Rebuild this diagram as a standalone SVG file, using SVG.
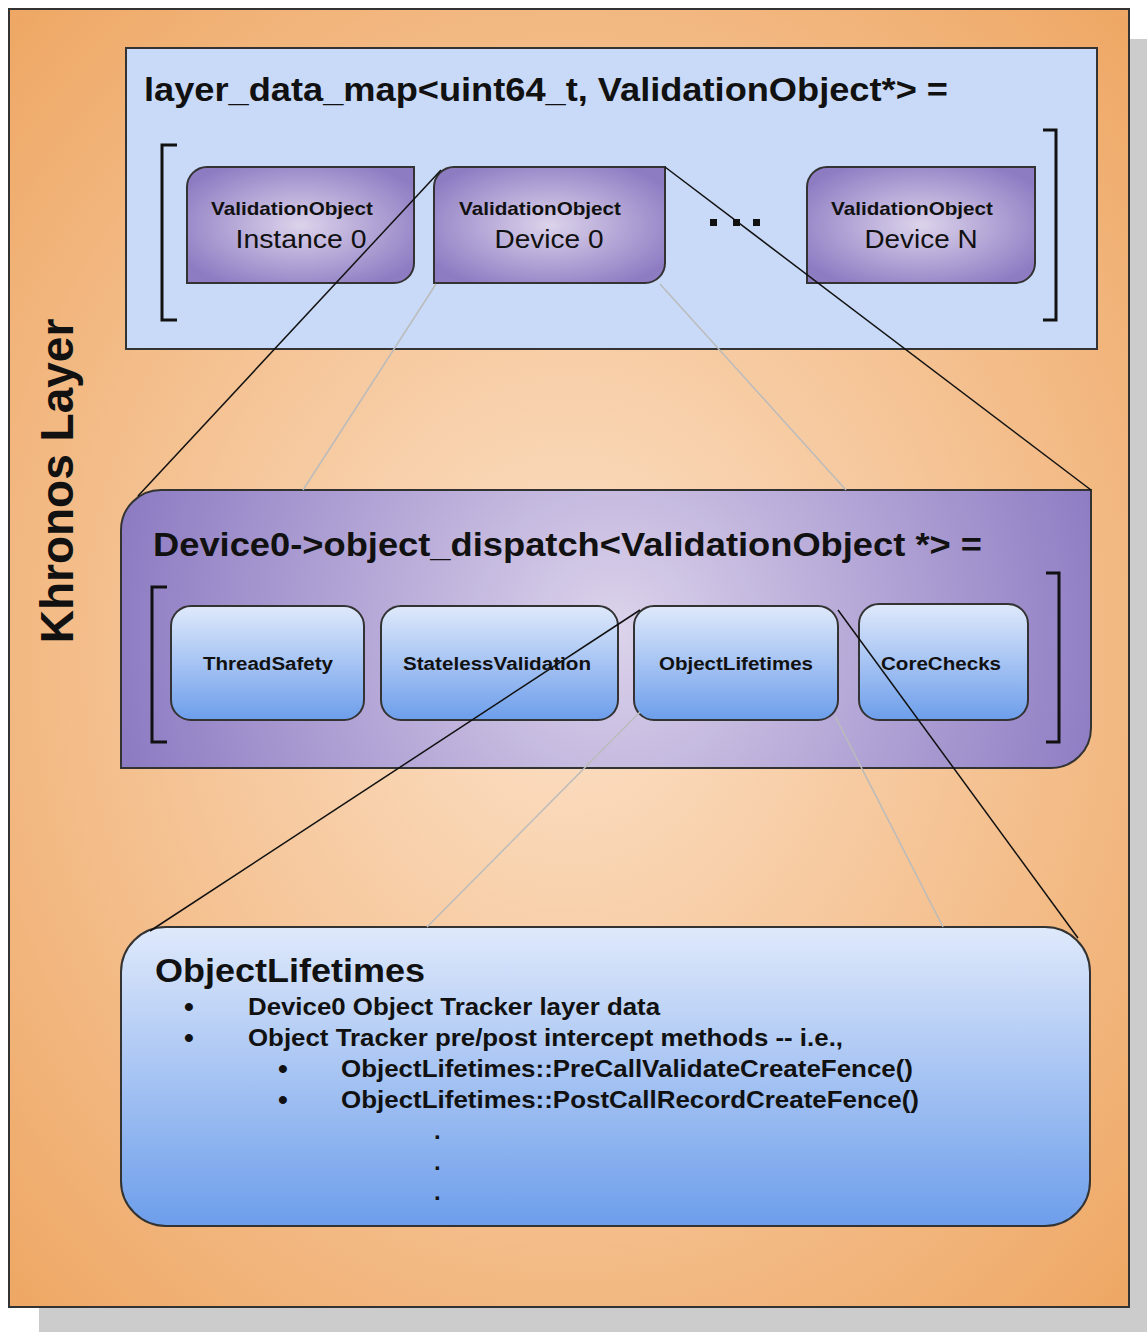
<svg xmlns="http://www.w3.org/2000/svg" width="1147" height="1332" viewBox="0 0 1147 1332">
<defs>
<radialGradient id="gOrange" cx="0.5" cy="0.5" r="0.72">
<stop offset="0" stop-color="#fce1c8"/>
<stop offset="1" stop-color="#eea662"/>
</radialGradient>
<radialGradient id="gPurple" cx="0.5" cy="0.5" r="0.6">
<stop offset="0" stop-color="#dcd3eb"/>
<stop offset="1" stop-color="#8e7cc3"/>
</radialGradient>
<radialGradient id="gPurpleBig" gradientUnits="userSpaceOnUse" cx="615" cy="630" r="500">
<stop offset="0" stop-color="#dcd3eb"/>
<stop offset="1" stop-color="#8e7cc3"/>
</radialGradient>
<linearGradient id="gBlue" x1="0" y1="0" x2="0" y2="1">
<stop offset="0" stop-color="#dfe9fb"/>
<stop offset="1" stop-color="#6d9eeb"/>
</linearGradient>
<style>
.frame{stroke:#333;stroke-width:2}
.bracket{fill:none;stroke:#111;stroke-width:3}
.dark{stroke:#111;stroke-width:1.5;fill:none}
.grey{stroke:#bbbbbb;stroke-width:1.5;fill:none}
.t{font-family:"Liberation Sans",Arial,sans-serif;fill:#111}
.b{font-weight:bold}
.title{font-size:34px;font-weight:bold}
.vo{font-size:19px;font-weight:bold;text-anchor:middle}
.nm{font-size:25px;text-anchor:middle}
.cmp{font-size:18px;font-weight:bold;text-anchor:middle}
.li{font-size:24px;font-weight:bold}
</style>
</defs>
<rect x="39" y="39" width="1108" height="1293" fill="#cccccc"/>
<g id="khronos-layer">
<rect x="9" y="9" width="1120" height="1298" fill="url(#gOrange)" class="frame"/>
<text class="t b" font-size="46" text-anchor="middle" transform="translate(73 481) rotate(-90)">Khronos Layer</text>
</g>
<g id="layer-data-map">
<rect x="126" y="48" width="971" height="301" fill="#c9daf8" class="frame"/>
<text class="t title" x="144" y="101" textLength="804" lengthAdjust="spacingAndGlyphs">layer_data_map&lt;uint64_t, ValidationObject*&gt; =</text>
<polyline class="bracket" points="177,145 162,145 162,320 177,320"/>
<polyline class="bracket" points="1043,130 1056,130 1056,320 1043,320"/>
<g fill="#111"><rect x="710" y="219" width="7" height="7"/><rect x="733" y="219" width="7" height="7"/><rect x="753" y="219" width="7" height="7"/></g>
</g>
<g id="vo-instance0">
<path d="M187,187 A20,20 0 0 1 207,167 L414,167 L414,263 A20,20 0 0 1 394,283 L187,283 Z" fill="url(#gPurple)" class="frame"/>
<text class="t vo" x="292" y="215" textLength="162" lengthAdjust="spacingAndGlyphs">ValidationObject</text>
<text class="t nm" x="301" y="248" textLength="131" lengthAdjust="spacingAndGlyphs">Instance 0</text>
</g>
<g id="vo-device0">
<path d="M434,187 A20,20 0 0 1 454,167 L665,167 L665,263 A20,20 0 0 1 645,283 L434,283 Z" fill="url(#gPurple)" class="frame"/>
<text class="t vo" x="540" y="215" textLength="162" lengthAdjust="spacingAndGlyphs">ValidationObject</text>
<text class="t nm" x="549" y="248" textLength="109" lengthAdjust="spacingAndGlyphs">Device 0</text>
</g>
<g id="vo-deviceN">
<path d="M807,187 A20,20 0 0 1 827,167 L1035,167 L1035,263 A20,20 0 0 1 1015,283 L807,283 Z" fill="url(#gPurple)" class="frame"/>
<text class="t vo" x="912" y="215" textLength="162" lengthAdjust="spacingAndGlyphs">ValidationObject</text>
<text class="t nm" x="921" y="248" textLength="113" lengthAdjust="spacingAndGlyphs">Device N</text>
</g>
<g id="object-dispatch">
<path d="M121,530 A40,40 0 0 1 161,490 L1091,490 L1091,728 A40,40 0 0 1 1051,768 L121,768 Z" fill="url(#gPurpleBig)" class="frame"/>
<text class="t title" x="153" y="556" textLength="829" lengthAdjust="spacingAndGlyphs">Device0-&gt;object_dispatch&lt;ValidationObject *&gt; =</text>
<polyline class="bracket" points="167,587 152,587 152,742 167,742"/>
<polyline class="bracket" points="1046,573 1059,573 1059,742 1046,742"/>
</g>
<g id="thread-safety">
<rect x="171" y="606" width="193" height="114" rx="20" fill="url(#gBlue)" class="frame"/>
<text class="t cmp" x="268" y="670" textLength="130" lengthAdjust="spacingAndGlyphs">ThreadSafety</text>
</g>
<g id="stateless-validation">
<rect x="381" y="606" width="237" height="114" rx="20" fill="url(#gBlue)" class="frame"/>
<text class="t cmp" x="497" y="670" textLength="188" lengthAdjust="spacingAndGlyphs">StatelessValidation</text>
</g>
<g id="object-lifetimes">
<rect x="634" y="606" width="204" height="114" rx="20" fill="url(#gBlue)" class="frame"/>
<text class="t cmp" x="736" y="670" textLength="154" lengthAdjust="spacingAndGlyphs">ObjectLifetimes</text>
</g>
<g id="core-checks">
<rect x="859" y="604" width="169" height="116" rx="20" fill="url(#gBlue)" class="frame"/>
<text class="t cmp" x="941" y="670" textLength="120" lengthAdjust="spacingAndGlyphs">CoreChecks</text>
</g>
<g id="object-lifetimes-detail">
<rect x="121" y="927" width="969" height="299" rx="45" fill="url(#gBlue)" class="frame"/>
<text class="t" font-size="33" font-weight="bold" x="155" y="982" textLength="270" lengthAdjust="spacingAndGlyphs">ObjectLifetimes</text>
<g class="t li">
<text x="184" y="1016" font-size="28">•</text>
<text x="248" y="1015" textLength="412" lengthAdjust="spacingAndGlyphs">Device0 Object Tracker layer data</text>
<text x="184" y="1047" font-size="28">•</text>
<text x="248" y="1046" textLength="595" lengthAdjust="spacingAndGlyphs">Object Tracker pre/post intercept methods -- i.e.,</text>
<text x="278" y="1078" font-size="28">•</text>
<text x="341" y="1077" textLength="572" lengthAdjust="spacingAndGlyphs">ObjectLifetimes::PreCallValidateCreateFence()</text>
<text x="278" y="1109" font-size="28">•</text>
<text x="341" y="1108" textLength="578" lengthAdjust="spacingAndGlyphs">ObjectLifetimes::PostCallRecordCreateFence()</text>
<text x="434" y="1139">.</text>
<text x="434" y="1170">.</text>
<text x="434" y="1200">.</text>
</g>
</g>
<g id="connectors">
<line class="dark" x1="441" y1="170" x2="138" y2="496"/>
<line class="dark" x1="665" y1="167" x2="1091" y2="490"/>
<line class="grey" x1="436" y1="284" x2="303" y2="490"/>
<line class="grey" x1="660" y1="284" x2="846" y2="490"/>
<line class="dark" x1="640" y1="610" x2="150" y2="931"/>
<line class="dark" x1="838" y1="610" x2="1078" y2="938"/>
<line class="grey" x1="640" y1="712" x2="427" y2="927"/>
<line class="grey" x1="835" y1="716" x2="943" y2="927"/>
</g>
</svg>
